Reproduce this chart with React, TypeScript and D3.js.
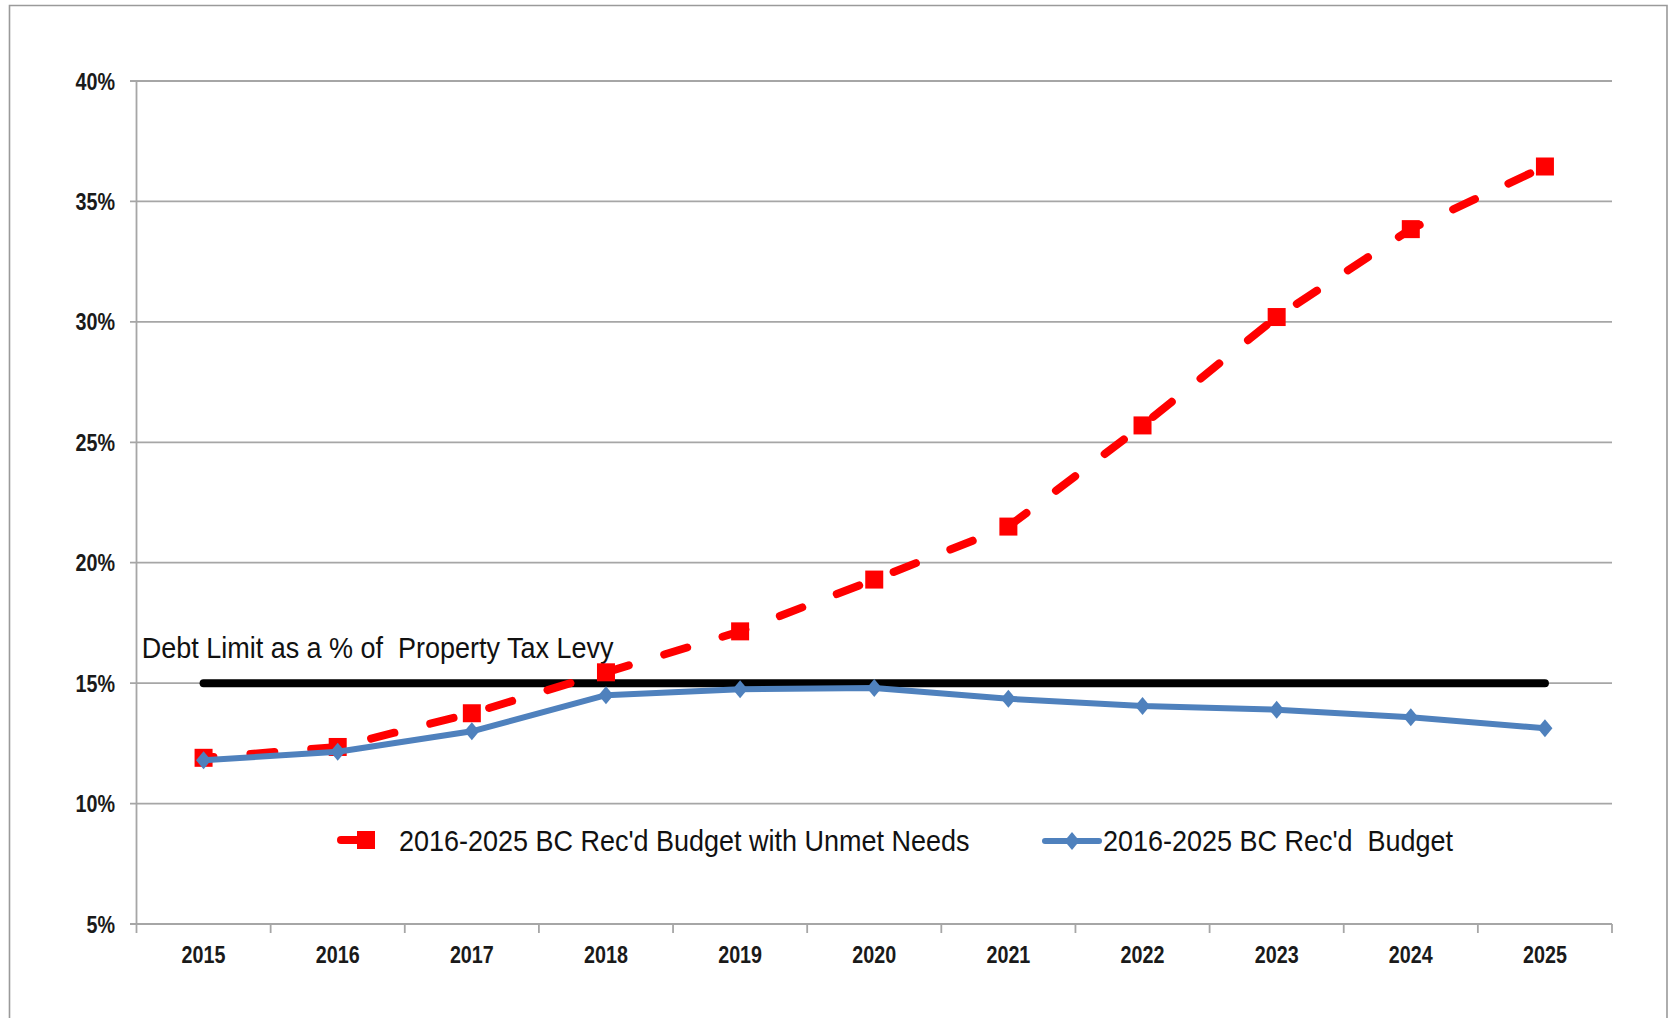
import React from "react";
import * as d3 from "d3";

const years = ["2015", "2016", "2017", "2018", "2019", "2020", "2021", "2022", "2023", "2024", "2025"];
const unmetNeeds = [11.9, 12.35, 13.75, 15.45, 17.15, 19.3, 21.5, 25.7, 30.2, 33.85, 36.45];
const recdBudget = [11.8, 12.15, 13.0, 14.5, 14.75, 14.8, 14.35, 14.05, 13.9, 13.58, 13.13];
const debtLimit = 15;
const yTicks = [5, 10, 15, 20, 25, 30, 35, 40];
const seriesNames = ["2016-2025 BC Rec'd Budget with Unmet Needs", "2016-2025 BC Rec'd  Budget"];
const debtLabel = "Debt Limit as a % of  Property Tax Levy";

const W = 1671;
const H = 1018;
const FONT = "'Liberation Sans', Arial, Helvetica, sans-serif";
const RED = "#FF0000";
const BLUE = "#4F81BD";
const GRID = "#A6A6A6";
const PRE: React.CSSProperties = { whiteSpace: "pre" };

export default function App() {
  const x = d3.scaleBand<string>().domain(years).range([136.5, 1612]).paddingInner(0).paddingOuter(0);
  const bw = x.bandwidth();
  const cx = (d: string) => (x(d) as number) + bw / 2;
  const y = d3.scaleLinear().domain([5, 40]).range([924, 81]);

  const line = d3
    .line<number>()
    .x((_, i) => cx(years[i]))
    .y((v) => y(v));

  const redPath = line(unmetNeeds) || "";
  const bluePath = line(recdBudget) || "";

  const boundaries = years.map((d) => x(d) as number).concat([1612]);

  const diamond = (px: number, py: number, rx: number, ry: number) =>
    `M${px},${py - ry}L${px + rx},${py}L${px},${py + ry}L${px - rx},${py}Z`;

  return (
    <svg
      width={W}
      height={H}
      viewBox={`0 0 ${W} ${H}`}
      style={{ position: "absolute", left: 0, top: 0, display: "block", background: "#fff" }}
    >
      <rect x={0} y={0} width={W} height={H} fill="#fff" />
      {/* frame */}
      <path d={`M9.5,${H + 5}L9.5,5.5L1667,5.5L1667,${H + 5}`} fill="none" stroke="#9A9A9A" strokeWidth={1.6} />

      {/* gridlines */}
      {yTicks.map((t) => (
        <line key={"g" + t} x1={130} x2={1612} y1={y(t)} y2={y(t)} stroke={GRID} strokeWidth={1.8} />
      ))}
      {/* y axis */}
      <line x1={136.5} x2={136.5} y1={y(40)} y2={y(5)} stroke={GRID} strokeWidth={1.8} />
      {/* x ticks */}
      {boundaries.map((b, i) => (
        <line key={"xt" + i} x1={b} x2={b} y1={y(5)} y2={y(5) + 9} stroke={GRID} strokeWidth={1.8} />
      ))}

      {/* y tick labels */}
      {yTicks.map((t) => (
        <text
          key={"yl" + t}
          transform={`translate(115,${y(t) + 8.5}) scale(0.84,1)`}
          textAnchor="end"
          fontFamily={FONT}
          fontWeight="bold"
          fontSize={23.5}
          fill="#1a1a1a"
        >
          {t + "%"}
        </text>
      ))}
      {/* x tick labels */}
      {years.map((d) => (
        <text
          key={"xl" + d}
          transform={`translate(${cx(d)},962.5) scale(0.84,1)`}
          textAnchor="middle"
          fontFamily={FONT}
          fontWeight="bold"
          fontSize={23.5}
          fill="#1a1a1a"
        >
          {d}
        </text>
      ))}

      {/* debt limit line */}
      <line
        x1={cx(years[0])}
        x2={cx(years[years.length - 1])}
        y1={y(debtLimit)}
        y2={y(debtLimit)}
        stroke="#000"
        strokeWidth={8}
        strokeLinecap="round"
      />
      <text
        transform={`translate(141.7,658) scale(0.9,1)`}
        fontFamily={FONT}
        fontSize={30}
        fill="#111"
        style={PRE}
      >
        {debtLabel}
      </text>

      {/* red dashed series */}
      <path
        d={redPath}
        fill="none"
        stroke={RED}
        strokeWidth={8}
        strokeDasharray="24 37"
        strokeDashoffset={14}
        strokeLinecap="round"
        strokeLinejoin="round"
      />
      {unmetNeeds.map((v, i) => (
        <rect key={"rs" + i} x={cx(years[i]) - 9} y={y(v) - 9} width={18} height={18} fill={RED} />
      ))}

      {/* blue series */}
      <path d={bluePath} fill="none" stroke={BLUE} strokeWidth={6} strokeLinejoin="round" />
      {recdBudget.map((v, i) => (
        <path key={"bd" + i} d={diamond(cx(years[i]), y(v), 7.5, 9)} fill={BLUE} />
      ))}

      {/* legend */}
      <line x1={341} x2={358} y1={840} y2={840} stroke={RED} strokeWidth={8} strokeLinecap="round" />
      <rect x={357} y={831} width={18} height={18} fill={RED} />
      <text transform={`translate(399,851) scale(0.9,1)`} fontFamily={FONT} fontSize={30} fill="#111" style={PRE}>
        {seriesNames[0]}
      </text>

      <line x1={1045} x2={1099} y1={841} y2={841} stroke={BLUE} strokeWidth={6} strokeLinecap="round" />
      <path d={diamond(1072, 841, 7.5, 9)} fill={BLUE} />
      <text transform={`translate(1103,851) scale(0.9,1)`} fontFamily={FONT} fontSize={30} fill="#111" style={PRE}>
        {seriesNames[1]}
      </text>
    </svg>
  );
}
